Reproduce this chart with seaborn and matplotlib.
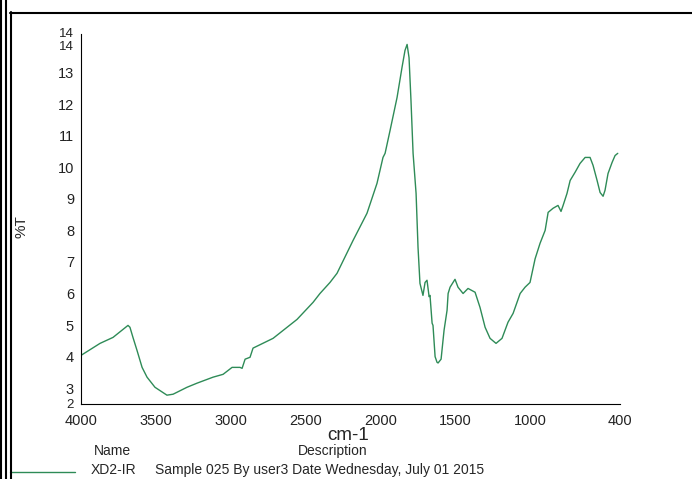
import matplotlib
matplotlib.use("Agg")
import matplotlib.pyplot as plt
import seaborn as sns
import pandas as pd
from matplotlib.lines import Line2D

# ---- data ----
wavenumber = [4000, 3873, 3786, 3686, 3673, 3653, 3626, 3592, 3559, 3506, 3426, 3385,
              3292, 3225, 3118, 3051, 2991, 2938, 2924, 2904, 2871, 2851, 2717, 2557,
              2450, 2404, 2337, 2290, 2183, 2090, 2023, 1983, 1969, 1936, 1889, 1856,
              1836, 1822, 1809, 1796, 1782, 1762, 1749, 1736, 1716, 1702, 1689, 1675,
              1669, 1655, 1649, 1635, 1622, 1615, 1595, 1582, 1575, 1555, 1548, 1535,
              1502, 1482, 1448, 1415, 1368, 1335, 1301, 1268, 1228, 1188, 1148, 1114,
              1067, 1034, 1001, 967, 934, 900, 880, 847, 814, 794, 780, 754, 733, 700,
              667, 633, 600, 580, 553, 533, 513, 500, 480, 453, 433, 415]
transmittance = [4.04, 4.42, 4.61, 4.99, 4.93, 4.61, 4.20, 3.66, 3.35, 3.03, 2.78, 2.81,
                 3.03, 3.16, 3.35, 3.44, 3.66, 3.66, 3.63, 3.92, 3.98, 4.27, 4.58, 5.18,
                 5.72, 6.00, 6.35, 6.64, 7.68, 8.54, 9.49, 10.31, 10.44, 11.16, 12.21, 13.16,
                 13.70, 13.89, 13.47, 12.11, 10.44, 9.17, 7.46, 6.32, 5.94, 6.35, 6.42, 5.90,
                 5.94, 5.06, 4.99, 4.00, 3.82, 3.80, 3.92, 4.52, 4.84, 5.47, 6.00, 6.20,
                 6.45, 6.20, 6.00, 6.16, 6.04, 5.56, 4.93, 4.58, 4.42, 4.58, 5.09, 5.37,
                 6.00, 6.20, 6.35, 7.10, 7.59, 8.00, 8.57, 8.70, 8.79, 8.60, 8.79, 9.17, 9.58, 9.84,
                 10.12, 10.31, 10.31, 10.06, 9.58, 9.20, 9.08, 9.27, 9.80, 10.15, 10.37, 10.44]

x_ticks = [4000, 3500, 3000, 2500, 2000, 1500, 1000, 400]
x_tick_labels = ["4000", "3500", "3000", "2500", "2000", "1500", "1000", "400"]
y_ticks = [2.5, 3, 4, 5, 6, 7, 8, 9, 10, 11, 12, 13, 14, 14.22]
y_tick_labels = ["2", "3", "4", "5", "6", "7", "8", "9", "10", "11", "12", "13", "14", "14"]

series_name = "XD2-IR"
series_desc = "Sample 025 By user3 Date Wednesday, July 01 2015"

df = pd.DataFrame({"cm-1": wavenumber, "%T": transmittance})

sns.set_style("white")
plt.rcParams["font.family"] = ["Liberation Sans", "DejaVu Sans"]

line_color = "#2E8B57"

fig = plt.figure(figsize=(6.92, 4.79), dpi=100)
ax = fig.add_axes([81 / 692, 1 - 404 / 479, (620 - 81) / 692, (404 - 34) / 479])

sns.lineplot(data=df, x="cm-1", y="%T", sort=False, ax=ax, color=line_color,
             linewidth=1.0)

ax.set_xlim(4000, 400)
ax.set_ylim(2.5, 14.22)
ax.set_xticks(x_ticks)
ax.set_xticklabels(x_tick_labels, fontsize=10.5)
ax.set_yticks(y_ticks)
ax.set_yticklabels(y_tick_labels, fontsize=10.5)
labels = ax.get_yticklabels()
labels[-1].set_fontsize(9.5)
labels[-2].set_fontsize(9.5)
labels[-1].set_verticalalignment("center")
labels[-2].set_verticalalignment("top")
labels[0].set_fontsize(9.5)
labels[0].set_verticalalignment("center_baseline")

ax.tick_params(axis="both", direction="out", length=4, width=0.8, colors="black",
               labelcolor="#222222")
ax.tick_params(axis="y", pad=1)
ax.tick_params(axis="x", pad=3)
for side in ["top", "right"]:
    ax.spines[side].set_visible(False)
for side in ["left", "bottom"]:
    ax.spines[side].set_color("black")
    ax.spines[side].set_linewidth(0.8)

ax.set_xlabel("")
ax.set_ylabel("")
fig.text(348 / 692, 1 - 433 / 479, "cm-1", fontsize=13.5, ha="center", va="center_baseline")
fig.text(22 / 692, 1 - 227 / 479, "%T", rotation=90, fontsize=11,
         ha="center", va="center")

# legend block
fig.text(112 / 692, 1 - 451 / 479, "Name", fontsize=10, ha="center", va="center")
fig.text(333 / 692, 1 - 451 / 479, "Description", fontsize=10, ha="center", va="center")
fig.add_artist(Line2D([10 / 692, 75 / 692], [1 - 472 / 479, 1 - 472 / 479],
                      color=line_color, linewidth=1.0))
fig.text(91 / 692, 1 - 470 / 479, series_name, fontsize=10, ha="left", va="center")
fig.text(155 / 692, 1 - 470 / 479, series_desc, fontsize=10, ha="left", va="center")

# window frame lines
fig.add_artist(Line2D([1.5 / 692, 1.5 / 692], [0, 1], color="black", linewidth=1.5))
fig.add_artist(Line2D([5.5 / 692, 5.5 / 692], [0, 1], color="black", linewidth=1.5))
fig.add_artist(Line2D([10.5 / 692, 10.5 / 692], [0, 1 - 12 / 479], color="black", linewidth=1.5))
fig.add_artist(Line2D([10 / 692, 1], [1 - 12.5 / 479, 1 - 12.5 / 479],
                      color="black", linewidth=1.5))

fig.savefig("out.png", dpi=100)
